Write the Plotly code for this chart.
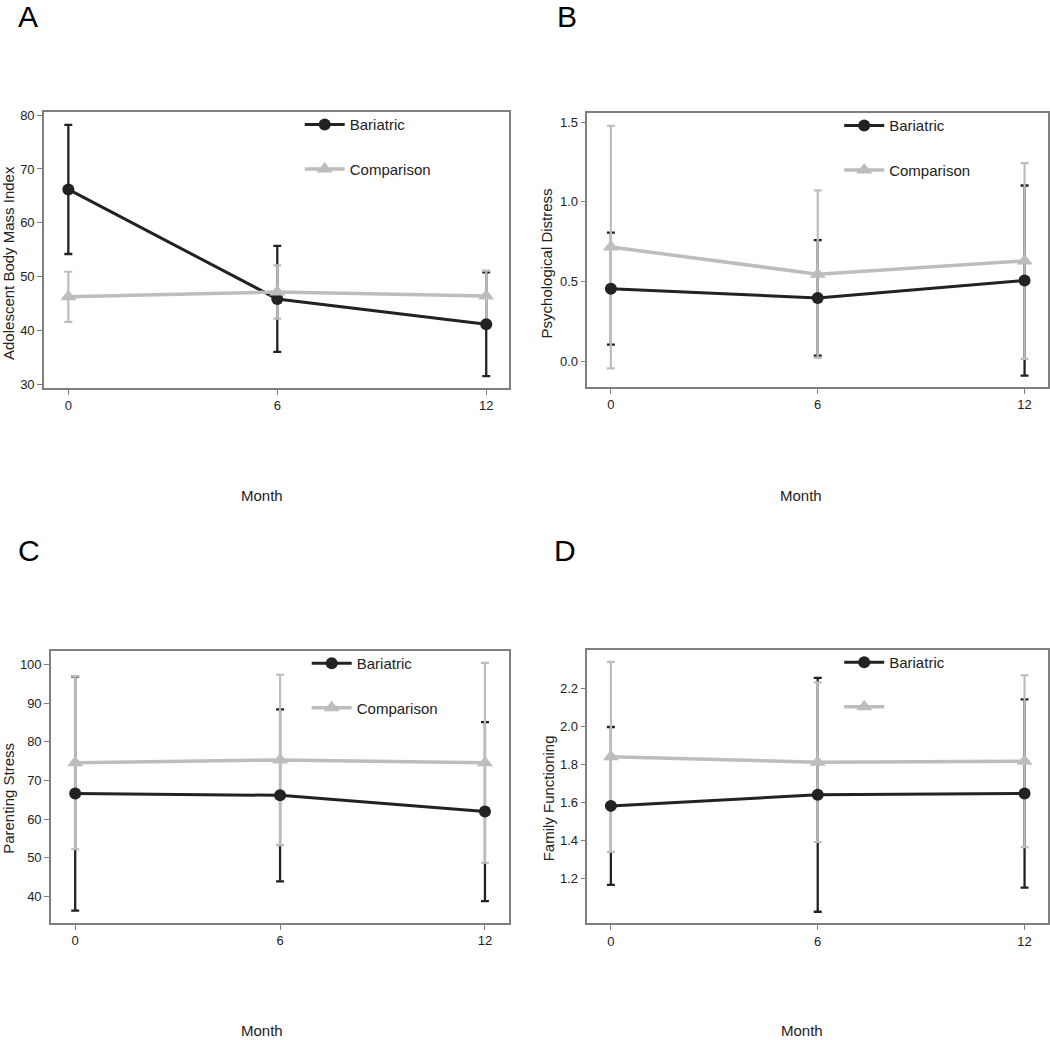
import plotly.graph_objects as go

months = [0, 6, 12]

# Panel A: Adolescent Body Mass Index
a_bar_mean = [66.2, 45.85, 41.15]
a_bar_err = [12.0, 9.85, 9.65]
a_cmp_mean = [46.25, 47.15, 46.4]
a_cmp_err = [4.65, 4.95, 4.7]

# Panel B: Psychological Distress
b_bar_mean = [0.455, 0.397, 0.506]
b_bar_err = [0.351, 0.362, 0.596]
b_cmp_mean = [0.716, 0.546, 0.629]
b_cmp_err = [0.761, 0.525, 0.614]

# Panel C: Parenting Stress
c_bar_mean = [66.6, 66.15, 61.95]
c_bar_err = [30.3, 22.25, 23.15]
c_cmp_mean = [74.6, 75.3, 74.55]
c_cmp_err = [22.4, 22.05, 25.85]

# Panel D: Family Functioning
d_bar_mean = [1.583, 1.641, 1.648]
d_bar_err = [0.415, 0.615, 0.495]
d_cmp_mean = [1.841, 1.813, 1.818]
d_cmp_err = [0.50, 0.42, 0.452]

panel_letters = ["A", "B", "C", "D"]
y_titles = ["Adolescent Body Mass Index", "Psychological Distress",
            "Parenting Stress", "Family Functioning"]
series_names = [["Bariatric", "Comparison"], ["Bariatric", "Comparison"],
                ["Bariatric", "Comparison"], ["Bariatric", " "]]
y_ticks = [[30, 40, 50, 60, 70, 80], [0.0, 0.5, 1.0, 1.5],
           [40, 50, 60, 70, 80, 90, 100], [1.2, 1.4, 1.6, 1.8, 2.0, 2.2]]
x_ticks = [0, 6, 12]

panels = [
    (a_bar_mean, a_bar_err, a_cmp_mean, a_cmp_err),
    (b_bar_mean, b_bar_err, b_cmp_mean, b_cmp_err),
    (c_bar_mean, c_bar_err, c_cmp_mean, c_cmp_err),
    (d_bar_mean, d_bar_err, d_cmp_mean, d_cmp_err),
]

W, H = 1050, 1040
FONT = "Liberation Sans, Arial, sans-serif"
BLACK = "#222222"
GRAY = "#bdbdbd"
FRAME = "#7f7f7f"

# pixel layout of each plot frame: (left, right, top, bottom)
frames = [(44, 509, 109, 387), (588, 1049, 110, 386),
          (51, 509, 652, 926), (588, 1049, 651, 926.5)]
y_ranges = [[29.3, 80.55], [-0.162, 1.556], [33.15, 103.5], [0.965, 2.403]]
x_ranges = [[-0.7, 12.64], [-0.68, 12.68], [-0.71, 12.69], [-0.68, 12.68]]
y_fmt = ["", ".1f", "", ".1f"]

fig = go.Figure()
layout = dict(width=W, height=H, margin=dict(l=0, r=0, t=0, b=0),
              paper_bgcolor="white", plot_bgcolor="white",
              font=dict(family=FONT, color=BLACK, size=13), annotations=[])

for i, (bm, be, cm, ce) in enumerate(panels):
    sfx = "" if i == 0 else str(i + 1)
    xa, ya = "x" + sfx, "y" + sfx
    leg = "legend" + sfx
    # error bars (black then gray)
    fig.add_trace(go.Scatter(x=months, y=bm, mode="markers", xaxis=xa, yaxis=ya,
                             marker=dict(size=1, color="rgba(0,0,0,0)"), showlegend=False,
                             error_y=dict(type="data", array=be, visible=True, color=BLACK,
                                          thickness=2.3, width=4), hoverinfo="skip"))
    fig.add_trace(go.Scatter(x=months, y=cm, mode="markers", xaxis=xa, yaxis=ya,
                             marker=dict(size=1, color="rgba(0,0,0,0)"), showlegend=False,
                             error_y=dict(type="data", array=ce, visible=True, color=GRAY,
                                          thickness=2.2, width=4), hoverinfo="skip"))
    # lines + markers
    fig.add_trace(go.Scatter(x=months, y=bm, mode="lines+markers", xaxis=xa, yaxis=ya,
                             name=series_names[i][0], legend=leg, legendgroup="b" + sfx,
                             line=dict(color=BLACK, width=3),
                             marker=dict(symbol="circle", size=12, color=BLACK)))
    fig.add_trace(go.Scatter(x=months, y=cm, mode="lines+markers", xaxis=xa, yaxis=ya,
                             name=series_names[i][1], legend=leg, legendgroup="c" + sfx,
                             line=dict(color=GRAY, width=3.5),
                             marker=dict(symbol="triangle-up", size=14, color=GRAY)))

    l, r, t, b = frames[i]
    layout["xaxis" + sfx] = dict(domain=[l / W, r / W], range=x_ranges[i], anchor=ya,
                                 tickvals=x_ticks, ticks="outside", ticklen=5, tickwidth=1,
                                 tickcolor=FRAME, showline=True, linecolor=FRAME, linewidth=1.5,
                                 mirror=True, showgrid=False, zeroline=False,
                                 tickfont=dict(size=13, color=BLACK, family=FONT))
    layout["yaxis" + sfx] = dict(domain=[1 - b / H, 1 - t / H], range=y_ranges[i], anchor=xa,
                                 tickvals=y_ticks[i], tickformat=y_fmt[i], ticks="outside",
                                 ticklen=5, tickwidth=1, tickcolor=FRAME, showline=True,
                                 linecolor=FRAME, linewidth=1.5, mirror=True, showgrid=False,
                                 zeroline=False, tickfont=dict(size=13, color=BLACK, family=FONT))
    leg_x = (l + 256) / W if i in (0, 2) else (l + 252) / W
    layout[leg] = dict(x=leg_x, y=1 - (t - 4) / H, xanchor="left", yanchor="top",
                       bgcolor="rgba(0,0,0,0)", borderwidth=0, tracegroupgap=22,
                       font=dict(size=15, color=BLACK, family=FONT), itemwidth=40)

# annotations: letters, y titles, Month labels
letter_pos = [(28, 13), (568, 13), (29, 551), (566, 551)]
ytitle_pos = [(9, 261), (548, 261), (9, 800), (549, 800)]
month_pos = [(262, 495), (802, 495), (262, 1034), (803, 1034)]
for i in range(4):
    lx, ly = letter_pos[i]
    layout["annotations"].append(dict(text=panel_letters[i], x=lx / W, y=1 - ly / H,
                                      xref="paper", yref="paper", showarrow=False,
                                      xanchor="center", yanchor="middle",
                                      font=dict(size=30, color="black", family=FONT)))
    tx, ty = ytitle_pos[i]
    layout["annotations"].append(dict(text=y_titles[i], x=tx / W, y=1 - ty / H,
                                      xref="paper", yref="paper", showarrow=False,
                                      textangle=-90, xanchor="center", yanchor="middle",
                                      font=dict(size=15, color=BLACK, family=FONT)))
    mx, my = month_pos[i]
    layout["annotations"].append(dict(text="Month", x=mx / W, y=1 - my / H,
                                      xref="paper", yref="paper", showarrow=False,
                                      xanchor="center", yanchor="middle",
                                      font=dict(size=15, color=BLACK, family=FONT)))

fig.update_layout(**layout)
fig.write_html("out.html", config={"displayModeBar": False},
               post_script="document.body.style.margin='0px';document.body.style.overflow='hidden';")
